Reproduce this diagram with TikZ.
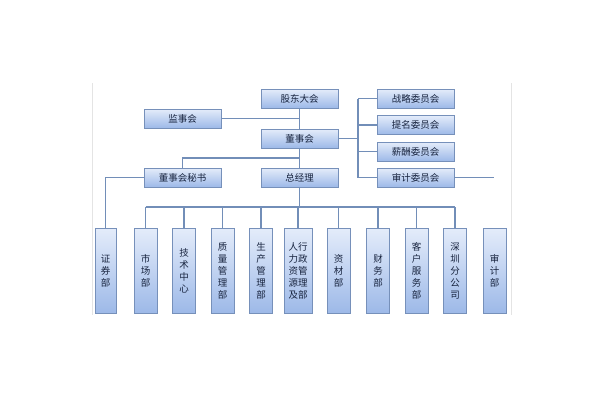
\documentclass[tikz,border=0pt]{standalone}
\usepackage{fontspec}
\setmainfont{Noto Sans CJK SC}
\newlength{\du}
\setlength{\du}{1pt}
\definecolor{boxtop}{HTML}{E4ECFA}
\definecolor{boxbot}{HTML}{9DB9E8}
\definecolor{boxline}{HTML}{7690BA}
\definecolor{boxtext}{HTML}{18243F}
\definecolor{wirecolor}{HTML}{728EB8}
\definecolor{edgecolor}{HTML}{E4E4E4}
\tikzset{
  orgbox/.style={draw=boxline, line width=0.9\du, top color=boxtop, bottom color=boxbot,
    minimum width=77\du, minimum height=19\du, inner sep=0pt, text=boxtext,
    font=\fontsize{9.5}{11}\selectfont},
  deptbox/.style={orgbox, minimum width=23\du, minimum height=85\du, align=center,
    font=\fontsize{9.5}{12}\selectfont},
  wire/.style={draw=wirecolor, line width=1.9\du},
  edgeline/.style={draw=edgecolor, line width=0.8\du}
}

\begin{document}
\begin{tikzpicture}
\pgftransformxscale{1.000000}
\pgftransformyscale{-1.000000}
\useasboundingbox (0\du,0\du) rectangle (600\du,400\du);
% faint page edges
\coordinate (edgeA) at (92\du,83\du);
\coordinate (edgeB) at (92\du,315\du);
\coordinate (edgeC) at (511\du,83\du);
\coordinate (edgeD) at (511\du,315\du);
\draw[edgeline] (edgeA) -- (edgeB);
\draw[edgeline] (edgeC) -- (edgeD);
% top level
\node[orgbox] (gudong) at (299.5\du,98.5\du){股东大会};
\node[orgbox] (jianshi) at (182.5\du,118.5\du){监事会};
\node[orgbox] (dongshi) at (299.5\du,138.5\du){董事会};
\node[orgbox] (mishu) at (182.5\du,177.5\du){董事会秘书};
\node[orgbox] (zongjingli) at (299.5\du,177.5\du){总经理};
% committees
\node[orgbox] (zhanlue) at (415.5\du,98.5\du){战略委员会};
\node[orgbox] (timing) at (415.5\du,125\du){提名委员会};
\node[orgbox] (xinchou) at (415.5\du,151.5\du){薪酬委员会};
\node[orgbox] (shenjiwei) at (415.5\du,177.5\du){审计委员会};
% departments
\node[deptbox, minimum width=21\du] (zhengquan) at (105.5\du,270.5\du){证\\券\\部};
\node[deptbox] (shichang) at (145.5\du,270.5\du){市\\场\\部};
\node[deptbox] (jishu) at (184\du,270.5\du){技\\术\\中\\心};
\node[deptbox] (zhiliang) at (222.5\du,270.5\du){质\\量\\管\\理\\部};
\node[deptbox] (shengchan) at (261\du,270.5\du){生\\产\\管\\理\\部};
\node[deptbox, minimum width=28\du] (renli) at (298\du,270.5\du){人行\\力政\\资管\\源理\\及部};
\node[deptbox] (zicai) at (338.5\du,270.5\du){资\\材\\部};
\node[deptbox] (caiwu) at (378\du,270.5\du){财\\务\\部};
\node[deptbox] (kehu) at (416.5\du,270.5\du){客\\户\\服\\务\\部};
\node[deptbox] (shenzhen) at (455\du,270.5\du){深\\圳\\分\\公\\司};
\node[deptbox] (shenjibu) at (494.5\du,270.5\du){审\\计\\部};
% connectors
\coordinate (mishujoint) at (299.5\du,158\du);
\coordinate (combus) at (358\du,138.5\du);
\coordinate (deptbus) at (299.5\du,207\du);
\coordinate (shenjiend) at (494\du,177.5\du);
\draw[wire] (gudong.south) -- (dongshi.north);
\draw[wire] (dongshi.south) -- (zongjingli.north);
\draw[wire] (jianshi.east) -- (jianshi.east -| gudong.south);
\draw[wire] (mishu.north) |- (mishujoint);
\draw[wire] (mishu.west) -| (zhengquan.north);
\draw[wire] (dongshi.east) -- (combus);
\draw[wire] (combus |- zhanlue.west) -- (combus |- shenjiwei.west);
\foreach \c in {zhanlue,timing,xinchou,shenjiwei}
  \draw[wire] (\c.west) -- (combus |- \c.west);
\draw[wire] (shenjiwei.east) -- (shenjiend);
\draw[wire] (zongjingli.south) -- (deptbus);
\draw[wire] (deptbus -| shichang.north) -- (deptbus -| shenzhen.north);
\foreach \d in {shichang,jishu,zhiliang,shengchan,renli,zicai,caiwu,kehu,shenzhen}
  \draw[wire] (\d.north) -- (deptbus -| \d.north);
\end{tikzpicture}
\end{document}
